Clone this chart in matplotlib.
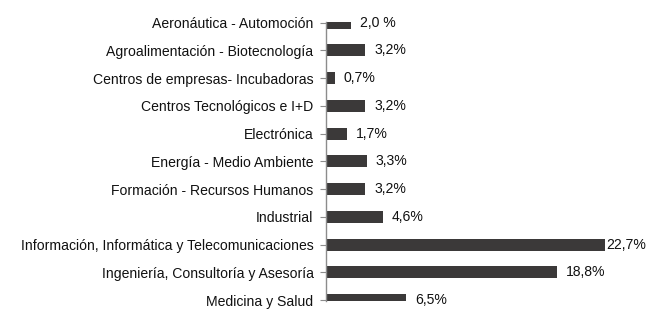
import matplotlib
matplotlib.use("Agg")
from matplotlib import pyplot as plt

plt.rcParams['font.family'] = ['Liberation Sans', 'DejaVu Sans']

categories = [
    "Aeronáutica - Automoción",
    "Agroalimentación - Biotecnología",
    "Centros de empresas- Incubadoras",
    "Centros Tecnológicos e I+D",
    "Electrónica",
    "Energía - Medio Ambiente",
    "Formación - Recursos Humanos",
    "Industrial",
    "Información, Informática y Telecomunicaciones",
    "Ingeniería, Consultoría y Asesoría",
    "Medicina y Salud",
]
values = [2.0, 3.2, 0.7, 3.2, 1.7, 3.3, 3.2, 4.6, 22.7, 18.8, 6.5]
value_labels = ["2,0 %", "3,2%", "0,7%", "3,2%", "1,7%", "3,3%", "3,2%",
                "4,6%", "22,7%", "18,8%", "6,5%"]

bar_color = "#3b3939"
axis_color = "#8c8c8c"
text_color = "#111111"

fig = plt.figure(figsize=(6.72, 3.14), dpi=100)
ax = fig.add_axes([326 / 672, 1 - 300.7 / 314, 307.5 / 672, 278.7 / 314])

ypos = list(range(len(categories)))
ax.barh(ypos, values, height=0.43, color=bar_color)

ax.set_xlim(0, 25)
ax.set_ylim(10.025, -0.025)

for y, v, lab in zip(ypos, values, value_labels):
    off = 0.5 if v == max(values) else 6.5
    ax.annotate(lab, (v, y), xytext=(off, 0), textcoords="offset points",
                ha="left", va="center", fontsize=10.1, color=text_color,
                annotation_clip=False)

ax.set_yticks(ypos)
ax.set_yticklabels(categories, fontsize=10.1, color=text_color)
ax.tick_params(axis="y", length=4, width=0.8, color=axis_color, pad=5)
ax.set_xticks([])

for s in ["top", "right", "bottom"]:
    ax.spines[s].set_visible(False)
ax.spines["left"].set_color(axis_color)
ax.spines["left"].set_linewidth(1.0)

fig.savefig("out.png", dpi=100)
